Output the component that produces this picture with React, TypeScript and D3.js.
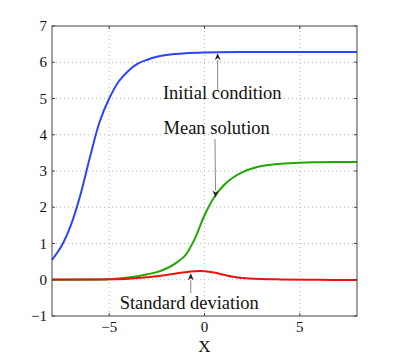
import React, { useEffect, useRef } from 'react';
import * as d3 from 'd3';

// x positions where the curves were read
const xInit = [-8, -7.5, -7, -6.5, -6, -5.5, -5, -4.5, -4, -3.5, -3, -2.5, -2, -1, 0, 2, 4, 6, 8];
const initialCondition = [0.55, 0.93, 1.52, 2.36, 3.4, 4.36, 5.0, 5.47, 5.76, 5.96, 6.07, 6.15, 6.2, 6.25, 6.27, 6.28, 6.28, 6.28, 6.28];

const xMean = [-8, -6, -5, -4, -3.5, -3, -2.5, -2, -1.5, -1, -0.5, 0, 0.5, 1, 1.5, 2, 2.5, 3, 4, 5, 6, 8];
const meanSolution = [0.0, 0.005, 0.015, 0.06, 0.1, 0.15, 0.21, 0.31, 0.46, 0.68, 1.14, 1.78, 2.27, 2.6, 2.82, 2.97, 3.07, 3.14, 3.2, 3.23, 3.24, 3.25];

const xStd = [-8, -6, -5, -4, -3, -2, -1.5, -1, -0.5, 0, 0.5, 1, 1.5, 2, 3, 4, 6, 8];
const standardDeviation = [0.01, 0.01, 0.015, 0.03, 0.07, 0.13, 0.17, 0.21, 0.235, 0.235, 0.2, 0.14, 0.08, 0.045, 0.02, 0.01, 0.0, -0.01];

const xTicks = [-5, 0, 5];
const yTicks = [-1, 0, 1, 2, 3, 4, 5, 6, 7];

// annotations in data units: label, text x, text baseline y, arrow tail, arrow tip
const annotations = [
  { label: 'Initial condition', tx: 0.93, ty: 4.99, x0: 0.69, y0: 5.23, x1: 0.69, y1: 6.25 },
  { label: 'Mean solution', tx: 0.64, ty: 4.02, x0: 0.55, y0: 3.88, x1: 0.58, y1: 2.27 },
  { label: 'Standard deviation', tx: -0.8, ty: -0.82, x0: -0.72, y0: -0.37, x1: -0.72, y1: 0.18 },
];

const W = 395;
const H = 357;
const margin = { left: 52, right: 38, top: 26, bottom: 41 };
const serif = '"Liberation Serif", "DejaVu Serif", serif';

const App = () => {
  const ref = useRef(null);

  useEffect(() => {
    d3.select(ref.current).selectAll('*').remove();

    const svg = d3
      .select(ref.current)
      .append('svg')
      .attr('width', W)
      .attr('height', H)
      .style('position', 'absolute')
      .style('left', 0)
      .style('top', 0)
      .style('background', '#fff');

    const x = d3.scaleLinear().domain([-8, 8]).range([margin.left, W - margin.right]);
    const y = d3.scaleLinear().domain([-1, 7]).range([H - margin.bottom, margin.top]);

    const x0 = x(-8), x1 = x(8), y0 = y(-1), y1 = y(7);

    // grid
    svg
      .selectAll('.vgrid')
      .data(xTicks)
      .enter()
      .append('line')
      .attr('x1', (d) => x(d))
      .attr('x2', (d) => x(d))
      .attr('y1', y0)
      .attr('y2', y1)
      .attr('stroke', '#b8b8b8')
      .attr('stroke-dasharray', '1,3');

    svg
      .selectAll('.hgrid')
      .data(yTicks.filter((d) => d > -1 && d < 7))
      .enter()
      .append('line')
      .attr('x1', x0)
      .attr('x2', x1)
      .attr('y1', (d) => y(d))
      .attr('y2', (d) => y(d))
      .attr('stroke', '#b8b8b8')
      .attr('stroke-dasharray', '1,3');

    // curves
    const series = [
      { xs: xInit, ys: initialCondition, color: '#2b45ff' },
      { xs: xMean, ys: meanSolution, color: '#1ea800' },
      { xs: xStd, ys: standardDeviation, color: '#e8140f' },
    ];
    const line = d3
      .line()
      .x((d) => x(d[0]))
      .y((d) => y(d[1]))
      .curve(d3.curveCatmullRom.alpha(0.5));

    series.forEach((s) => {
      svg
        .append('path')
        .attr('d', line(s.xs.map((v, i) => [v, s.ys[i]])))
        .attr('fill', 'none')
        .attr('stroke', s.color)
        .attr('stroke-width', 2);
    });

    // frame and ticks
    const g = svg.append('g').attr('stroke', '#444').attr('stroke-width', 1);
    g.append('rect')
      .attr('x', x0)
      .attr('y', y1)
      .attr('width', x1 - x0)
      .attr('height', y0 - y1)
      .attr('fill', 'none');
    const tl = 3;
    xTicks.forEach((t) => {
      g.append('line').attr('x1', x(t)).attr('x2', x(t)).attr('y1', y0).attr('y2', y0 - tl);
      g.append('line').attr('x1', x(t)).attr('x2', x(t)).attr('y1', y1).attr('y2', y1 + tl);
    });
    yTicks.forEach((t) => {
      g.append('line').attr('x1', x0).attr('x2', x0 + tl).attr('y1', y(t)).attr('y2', y(t));
      g.append('line').attr('x1', x1).attr('x2', x1 - tl).attr('y1', y(t)).attr('y2', y(t));
    });

    const fmt = (d) => (d < 0 ? '\u2212' + Math.abs(d) : String(d));

    svg
      .selectAll('.xlab')
      .data(xTicks)
      .enter()
      .append('text')
      .attr('x', (d) => x(d))
      .attr('y', y0 + 16)
      .attr('text-anchor', 'middle')
      .attr('font-family', serif)
      .attr('font-size', 15)
      .attr('fill', '#111')
      .text(fmt);

    svg
      .selectAll('.ylab')
      .data(yTicks)
      .enter()
      .append('text')
      .attr('x', x0 - 5)
      .attr('y', (d) => y(d) + 5)
      .attr('text-anchor', 'end')
      .attr('font-family', serif)
      .attr('font-size', 15)
      .attr('fill', '#111')
      .text(fmt);

    svg
      .append('text')
      .attr('x', x(0))
      .attr('y', y0 + 36)
      .attr('text-anchor', 'middle')
      .attr('font-family', serif)
      .attr('font-size', 17)
      .attr('fill', '#111')
      .text('X');

    // annotations
    annotations.forEach((a) => {
      svg
        .append('text')
        .attr('x', x(a.tx))
        .attr('y', y(a.ty))
        .attr('text-anchor', 'middle')
        .attr('font-family', serif)
        .attr('font-size', 18.5)
        .attr('fill', '#111')
        .text(a.label);

      const px0 = x(a.x0), py0 = y(a.y0), px1 = x(a.x1), py1 = y(a.y1);
      const ang = Math.atan2(py1 - py0, px1 - px0);
      const hl = 7, hw = 3;
      const bx = px1 - hl * Math.cos(ang), by = py1 - hl * Math.sin(ang);
      svg
        .append('line')
        .attr('x1', px0)
        .attr('y1', py0)
        .attr('x2', bx)
        .attr('y2', by)
        .attr('stroke', '#888')
        .attr('stroke-width', 1);
      const nx = -Math.sin(ang), ny = Math.cos(ang);
      const mx = px1 - hl * 0.7 * Math.cos(ang), my = py1 - hl * 0.7 * Math.sin(ang);
      svg
        .append('path')
        .attr(
          'd',
          `M${px1},${py1}L${bx + nx * hw},${by + ny * hw}L${mx},${my}L${bx - nx * hw},${by - ny * hw}Z`
        )
        .attr('fill', '#222');
    });
  }, []);

  return <div ref={ref}></div>;
};

export default App;
